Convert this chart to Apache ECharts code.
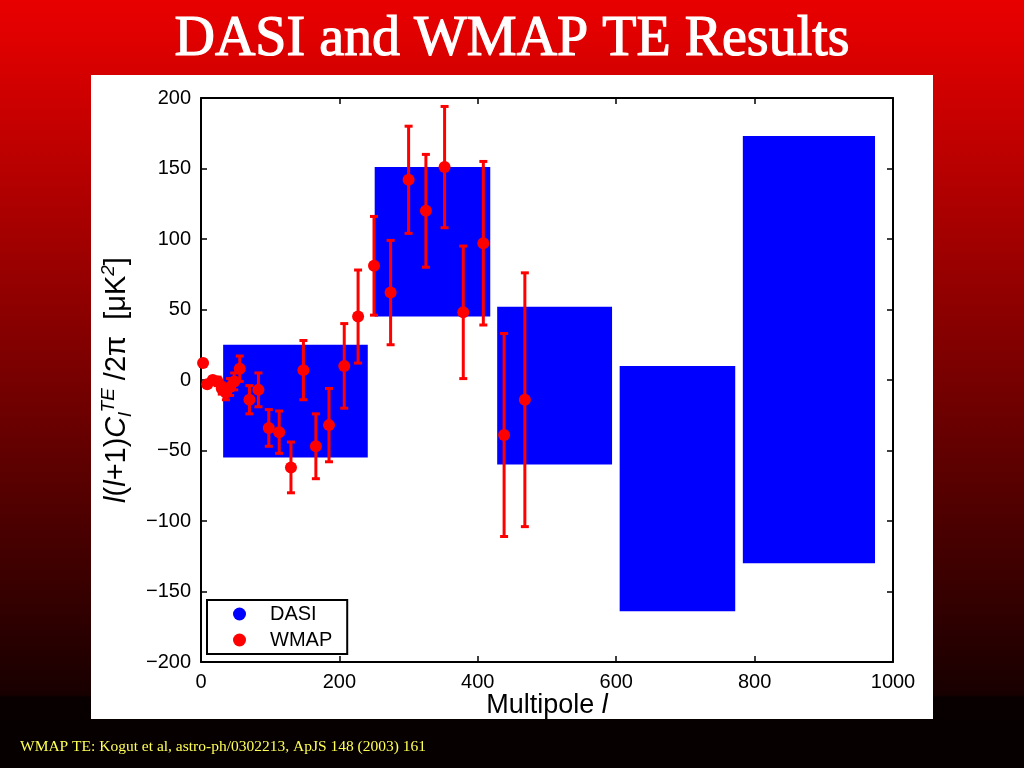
<!DOCTYPE html>
<html>
<head>
<meta charset="utf-8">
<script src="https://cdn.jsdelivr.net/npm/echarts@6/dist/echarts.min.js"></script>
<style>html,body{margin:0;padding:0;background:#000;}#c{width:1024px;height:768px;}</style>
</head>
<body>
<div id="c"></div>
<script>
// ---- data ----
var titleText = 'DASI and WMAP TE Results';
var footerText = 'WMAP TE: Kogut et al, astro-ph/0302213, ApJS 148 (2003) 161';
var xTicks = [0, 200, 400, 600, 800, 1000];
var yTicks = [-200, -150, -100, -50, 0, 50, 100, 150, 200];
// DASI band powers: l range and value range
var dasiLmin = [32, 251, 428, 605, 783];
var dasiLmax = [241, 418, 594, 772, 974];
var dasiLow  = [-55, 45, -60, -164, -130];
var dasiHigh = [25, 151, 52, 10, 173];
// WMAP TE points
var wmapL   = [3, 9, 17, 24, 30, 36, 42, 48, 56, 70, 83, 98, 113, 130, 148, 166, 185, 207, 227, 250, 274, 300, 325, 352, 379, 408, 438, 468];
var wmapV   = [12, -3, 0, -1, -6, -9, -5, -1, 8, -14, -7, -34, -37, -62, 7, -47, -32, 10, 45, 81, 62, 142, 120, 151, 48, 97, -39, -14];
var wmapErr = [2, 2, 2, 3, 4, 5, 6, 6, 9, 10, 12, 13, 15, 18, 21, 23, 26, 30, 33, 35, 37, 38, 40, 43, 47, 58, 72, 90];

var dasiData = dasiLmin.map(function (v, i) { return [v, dasiLmax[i], dasiLow[i], dasiHigh[i]]; });
var wmapPts = wmapL.map(function (v, i) { return [v, wmapV[i]]; });
var wmapBars = wmapL.map(function (v, i) { return [v, wmapV[i] - wmapErr[i], wmapV[i] + wmapErr[i]]; });

var chart = echarts.init(document.getElementById('c'));
var axisFont = { fontFamily: 'Liberation Sans', fontSize: 20, color: '#000' };
var plain = function (v) { return String(v).replace('-', '\u2212'); };
var tickStyle = { inside: true, length: 6, lineStyle: { color: '#000', width: 1.5 } };
var lineStyle = { onZero: false, lineStyle: { color: '#000', width: 2 } };

var option = {
  animation: false,
  backgroundColor: {
    type: 'linear', x: 0, y: 0, x2: 0, y2: 1,
    colorStops: [
      { offset: 0, color: '#e80000' },
      { offset: 0.04, color: '#e20000' },
      { offset: 0.5, color: '#760000' },
      { offset: 0.905, color: '#180000' },
      { offset: 0.908, color: '#080000' },
      { offset: 1, color: '#060000' }
    ]
  },
  graphic: [
    { type: 'rect', z: -10, shape: { x: 91, y: 75, width: 842, height: 644 }, style: { fill: '#fff' } },
    { type: 'text', left: 'center', top: 12, style: { text: titleText, fill: '#fff', stroke: '#fff', lineWidth: 1.2, font: '56px "Liberation Serif"' } },
    { type: 'text', left: 20, top: 739, style: { text: footerText, fill: '#ffff55', font: '15.5px "Liberation Serif"' } }
  ],
  grid: { left: 201, right: 131, top: 98, bottom: 106, show: false },
  legend: {
    left: 207, top: 600, orient: 'vertical',
    backgroundColor: '#fff', borderColor: '#000', borderWidth: 2, borderRadius: 0,
    padding: [4, 15, 4, 26], itemGap: 6, itemWidth: 13, itemHeight: 13,
    textStyle: { fontFamily: 'Liberation Sans', fontSize: 20, color: '#000', padding: [0, 0, 0, 19] },
    data: [
      { name: 'DASI', icon: 'circle', itemStyle: { color: '#0000ff' } },
      { name: 'WMAP', icon: 'circle', itemStyle: { color: '#ff0000' } }
    ]
  },
  xAxis: [
    {
      type: 'value', min: 0, max: 1000, interval: 200,
      axisLine: lineStyle, axisTick: tickStyle,
      axisLabel: Object.assign({ margin: 10, formatter: plain }, axisFont),
      splitLine: { show: false },
      name: '{n|Multipole }{i|l}', nameLocation: 'middle', nameGap: 30, nameMoveOverlap: false,
      nameTextStyle: { rich: {
        n: { fontFamily: 'Liberation Sans', fontSize: 27, color: '#000' },
        i: { fontFamily: 'Liberation Sans', fontSize: 27, fontStyle: 'italic', color: '#000' }
      } }
    },
    {
      type: 'value', position: 'top', min: 0, max: 1000, interval: 200,
      axisLine: lineStyle, axisTick: tickStyle,
      axisLabel: { show: false }, splitLine: { show: false }
    }
  ],
  yAxis: [
    {
      type: 'value', min: -200, max: 200, interval: 50,
      axisLine: lineStyle, axisTick: tickStyle,
      axisLabel: Object.assign({ margin: 10, formatter: plain }, axisFont),
      splitLine: { show: false },
      name: '{i|l}{n|(}{i|l}{n|+1)}{i|C}{sub|l}{sup|TE}{n| /2π  [μK}{sup|2}{n|]}',
      nameLocation: 'middle', nameGap: 56, nameRotate: 90,
      nameTextStyle: { rich: {
        n: { fontFamily: 'Liberation Sans', fontSize: 29, color: '#000', lineHeight: 36 },
        i: { fontFamily: 'Liberation Sans', fontSize: 29, fontStyle: 'italic', color: '#000', lineHeight: 36 },
        sub: { fontFamily: 'Liberation Sans', fontSize: 19, fontStyle: 'italic', color: '#000', verticalAlign: 'bottom' },
        sup: { fontFamily: 'Liberation Sans', fontSize: 19, fontStyle: 'italic', color: '#000', verticalAlign: 'top' }
      } }
    },
    {
      type: 'value', position: 'right', min: -200, max: 200, interval: 50,
      axisLine: lineStyle, axisTick: tickStyle,
      axisLabel: { show: false }, splitLine: { show: false }
    }
  ],
  series: [
    {
      name: 'DASI', type: 'custom', data: dasiData,
      itemStyle: { color: '#0000ff' },
      encode: { x: [0, 1], y: [2, 3] },
      renderItem: function (params, api) {
        var p1 = api.coord([api.value(0), api.value(3)]);
        var p2 = api.coord([api.value(1), api.value(2)]);
        return { type: 'rect', shape: { x: p1[0], y: p1[1], width: p2[0] - p1[0], height: p2[1] - p1[1] }, style: { fill: '#0000ff' } };
      },
      z: 1
    },
    {
      name: 'WMAP', type: 'custom', data: wmapBars,
      itemStyle: { color: '#ff0000' },
      encode: { x: 0, y: [1, 2] },
      renderItem: function (params, api) {
        var x = api.value(0);
        var lo = api.coord([x, api.value(1)]);
        var hi = api.coord([x, api.value(2)]);
        var cw = 4;
        var st = { stroke: '#ff0000', lineWidth: 3 };
        return { type: 'group', children: [
          { type: 'line', shape: { x1: lo[0], y1: lo[1], x2: hi[0], y2: hi[1] }, style: st },
          { type: 'line', shape: { x1: lo[0] - cw, y1: lo[1], x2: lo[0] + cw, y2: lo[1] }, style: st },
          { type: 'line', shape: { x1: hi[0] - cw, y1: hi[1], x2: hi[0] + cw, y2: hi[1] }, style: st }
        ] };
      },
      z: 2
    },
    {
      name: 'WMAP', type: 'scatter', data: wmapPts, symbol: 'circle', symbolSize: 12,
      itemStyle: { color: '#ff0000', opacity: 1 }, z: 3
    }
  ]
};
chart.setOption(option);
</script>
</body>
</html>
